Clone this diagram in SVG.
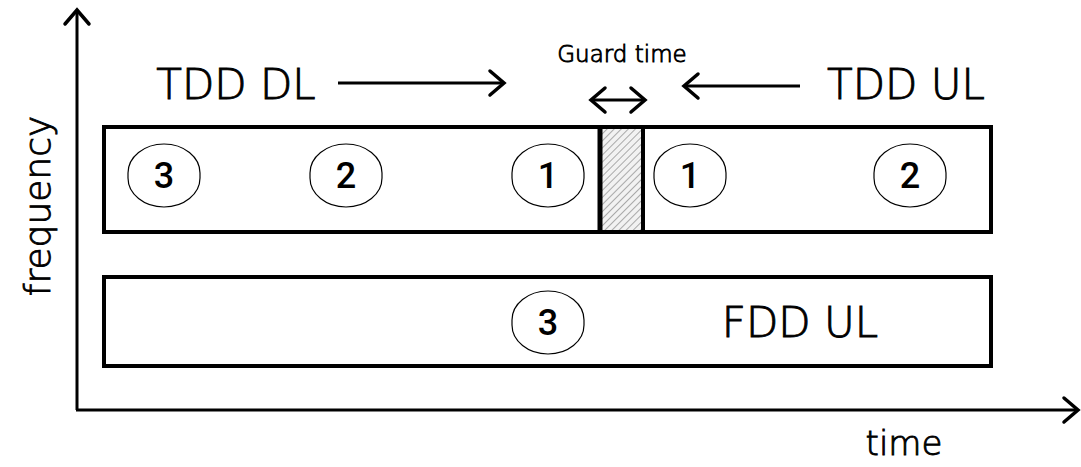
<svg xmlns="http://www.w3.org/2000/svg" width="1081" height="467" viewBox="0 0 1081 467">
<style>
.t{font-family:"DejaVu Sans","Liberation Sans",sans-serif;font-weight:200;fill:#000;stroke:#000;stroke-width:0.9}
.big{font-size:42px}
.num{font-family:Roboto,"Liberation Sans",sans-serif;font-size:36px;font-weight:500;text-anchor:middle}
.blk{fill:#fff;stroke:#000;stroke-width:4}
.oval{fill:#fff;stroke:#000;stroke-width:1.2}
.ln{stroke:#000;stroke-width:3;fill:none}
</style>
<defs>
<marker id="ah" viewBox="0 0 24 30" refX="20" refY="15" markerWidth="24" markerHeight="30" markerUnits="userSpaceOnUse" orient="auto-start-reverse">
<path d="M6 3 L20 15 L6 27" fill="none" stroke="#000" stroke-width="3.5" stroke-linecap="round" stroke-linejoin="miter"/>
</marker>
<pattern id="hatch" patternUnits="userSpaceOnUse" width="5" height="5" patternTransform="rotate(45)">
<rect width="5" height="5" fill="#f2f2f2"/>
<line x1="0" y1="0" x2="0" y2="5" stroke="#777" stroke-width="1.2"/>
</pattern>
</defs>
<g id="axes">
<line class="ln" x1="77" y1="410" x2="77" y2="10" marker-end="url(#ah)"/>
<line class="ln" x1="76" y1="410" x2="1078" y2="410" marker-end="url(#ah)"/>
<text class="t" transform="translate(50 206) rotate(-90)" text-anchor="middle" font-size="36">frequency</text>
<text class="t" x="904" y="455" text-anchor="middle" font-size="34">time</text>
</g>
<g id="tdd-block">
<rect class="blk" x="104" y="127" width="887" height="105"/>
<rect x="600" y="127" width="43" height="105" fill="url(#hatch)" stroke="#000" stroke-width="4"/>
<line x1="600" y1="127" x2="600" y2="232" stroke="#000" stroke-width="5"/>
</g>
<g id="fdd-block">
<rect class="blk" x="104" y="277" width="887" height="89"/>
<text class="t big" x="800" y="337" text-anchor="middle">FDD UL</text>
</g>
<g id="labels">
<text class="t big" x="236" y="99" text-anchor="middle">TDD DL</text>
<text class="t big" x="906" y="99" text-anchor="middle">TDD UL</text>
<text class="t" x="622" y="62" text-anchor="middle" font-size="23">Guard time</text>
</g>
<g id="connectors">
<line class="ln" x1="338" y1="83" x2="504" y2="83" marker-end="url(#ah)"/>
<line class="ln" x1="800" y1="86" x2="684" y2="86" marker-end="url(#ah)"/>
<line class="ln" x1="591" y1="100" x2="645" y2="100" marker-start="url(#ah)" marker-end="url(#ah)"/>
</g>
<g id="c3a"><rect class="oval" x="128" y="144" width="72" height="63" rx="36" ry="29"/><text class="num" x="164" y="188">3</text></g>
<g id="c2a"><rect class="oval" x="310" y="144" width="72" height="63" rx="36" ry="29"/><text class="num" x="346" y="188">2</text></g>
<g id="c1a"><rect class="oval" x="512" y="144" width="72" height="63" rx="36" ry="29"/><text class="num" x="548" y="188">1</text></g>
<g id="c1b"><rect class="oval" x="654" y="144" width="72" height="63" rx="36" ry="29"/><text class="num" x="690" y="188">1</text></g>
<g id="c2b"><rect class="oval" x="874" y="144" width="72" height="63" rx="36" ry="29"/><text class="num" x="910" y="188">2</text></g>
<g id="c3b"><rect class="oval" x="512" y="291" width="72" height="63" rx="36" ry="29"/><text class="num" x="548" y="335">3</text></g>
</svg>
